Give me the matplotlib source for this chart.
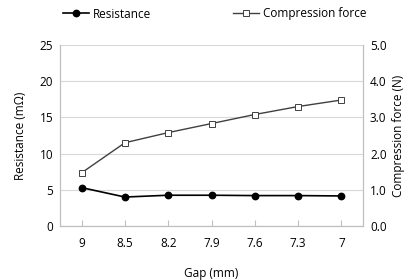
import matplotlib
matplotlib.use("Agg")
import matplotlib.pyplot as plt
from matplotlib.lines import Line2D

plt.rcParams['font.family'] = ['Open Sans', 'DejaVu Sans']

gap = ["9", "8.5", "8.2", "7.9", "7.6", "7.3", "7"]
resistance = [5.3, 4.0, 4.25, 4.25, 4.2, 4.2, 4.15]
force = [1.47, 2.30, 2.58, 2.83, 3.08, 3.30, 3.48]

grey = "#bfbfbf"
x = list(range(len(gap)))

fig = plt.figure(figsize=(4.05, 2.8), dpi=100)
ax = fig.add_axes([60 / 405, 1 - 226 / 280, 303 / 405, 181 / 280])
ax2 = ax.twinx()

ax.plot(x, resistance, color="black", lw=1.2, marker="o", ms=4.6,
        markerfacecolor="black", zorder=3)
ax2.plot(x, force, color="#404040", lw=1.0, marker="s", ms=4.8,
         markerfacecolor="white", markeredgecolor="#404040",
         markeredgewidth=0.7, zorder=3)

ax.set_xlim(-0.5, len(gap) - 0.5)
ax.set_ylim(0, 25)
ax.set_yticks([0, 5, 10, 15, 20, 25])
ax2.set_ylim(0, 5)
ax2.set_yticks([0, 1, 2, 3, 4, 5])
ax2.set_yticklabels([f"{v:.1f}" for v in [0, 1, 2, 3, 4, 5]])
ax.set_xticks(x)
ax.set_xticklabels(gap)

ax.grid(axis="y", color="#d9d9d9", lw=0.8)
ax.set_axisbelow(True)

fs = 8.5
for a in (ax, ax2):
    a.spines["top"].set_visible(False)
    for s in ("left", "right", "bottom"):
        a.spines[s].set_color(grey)
        a.spines[s].set_linewidth(0.8)
    a.tick_params(labelsize=fs, colors="black", length=0, pad=5)
ax.tick_params(axis="x", direction="in", length=4, color=grey, pad=8)

ax.set_ylabel("Resistance (mΩ)", fontsize=fs, labelpad=9)
ax2.set_ylabel("Compression force (N)", fontsize=fs, labelpad=4)
ax.set_xlabel("Gap (mm)", fontsize=fs, labelpad=12)

handles = [
    Line2D([], [], color="black", lw=1.2, marker="o", ms=4.6, markerfacecolor="black"),
    Line2D([], [], color="#404040", lw=1.0, marker="s", ms=5,
           markerfacecolor="white", markeredgecolor="#404040", markeredgewidth=0.7),
]
fig.legend(handles, ["Resistance", "Compression force"], loc="center",
           bbox_to_anchor=(0.53, 1 - 14 / 280), ncol=2, frameon=False,
           fontsize=fs, handlelength=2.2, handletextpad=0.3, columnspacing=7.0)

fig.savefig("out.png", dpi=100)
